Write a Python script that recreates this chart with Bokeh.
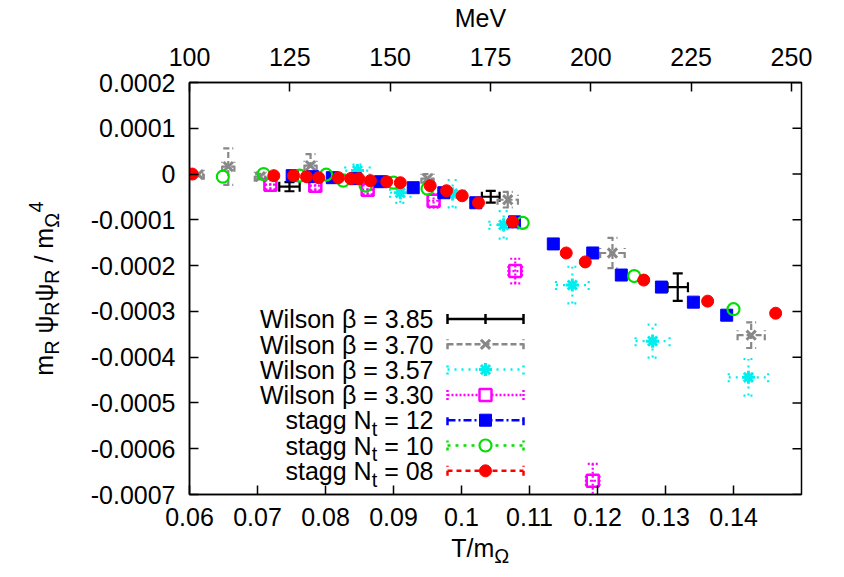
import numpy as np
from bokeh.plotting import figure
from bokeh.models import Range1d, LinearAxis, FixedTicker
from bokeh.core.properties import value
from bokeh.embed import file_html
from bokeh.resources import INLINE

# ---------------- data ----------------
# Wilson beta = 3.85 (black)
w385_x = [0.0747, 0.1043, 0.1318]
w385_y = [-0.0000276, -0.0000496, -0.000247]
w385_dx = [0.0015, 0.0013, 0.0015]
w385_dy = [0.00001, 0.000013, 0.00003]
# Wilson beta = 3.70 (gray)
w370_x = [0.0613, 0.0657, 0.0704, 0.0778, 0.0950, 0.1068, 0.1222, 0.1426]
w370_y = [-0.0000013, 0.0000162, -0.0000057, 0.0000184, -0.00001, -0.0000561, -0.0001724, -0.000352]
w370_dx = [0.0008, 0.0009, 0.0008, 0.0009, 0.0009, 0.0015, 0.0018, 0.002]
w370_dy = [0.000004, 0.00004, 0.000006, 0.000025, 0.00001, 0.000017, 0.000033, 0.000028]
# Wilson beta = 3.57 (cyan)
w357_x = [0.0847, 0.0910, 0.0987, 0.1062, 0.1163, 0.1281, 0.1422]
w357_y = [0.0000075, -0.0000408, -0.000043, -0.000111, -0.0002425, -0.000365, -0.000444]
w357_dx = [0.0018, 0.0015, 0.0018, 0.0021, 0.0024, 0.0025, 0.0029]
w357_dy = [0.000013, 0.000022, 0.00003, 0.00003, 0.00004, 0.000036, 0.00004]
# Wilson beta = 3.30 (magenta)
w330_x = [0.0719, 0.0785, 0.0862, 0.0959, 0.1079, 0.1193]
w330_y = [-0.0000232, -0.0000254, -0.0000342, -0.0000583, -0.000212, -0.00067]
w330_dx = [0.0008, 0.0008, 0.0008, 0.0008, 0.001, 0.001]
w330_dy = [0.00001, 0.00001, 0.00001, 0.000015, 0.000027, 0.000037]
# stagg Nt = 12 (blue)
s12_x = [0.0751, 0.0781, 0.0810, 0.0844, 0.0881, 0.0929, 0.0974, 0.1021, 0.1078,
         0.1135, 0.1193, 0.1235, 0.1294, 0.1341, 0.1390]
s12_y = [-0.0000035, -0.0000057, -0.0000079, -0.00001, -0.0000167, -0.0000298, -0.0000408,
         -0.0000627, -0.0001044, -0.0001526, -0.0001724, -0.0002206, -0.0002469, -0.0002798, -0.0003083]
# stagg Nt = 10 (green)
s10_x = [0.0649, 0.0709, 0.0762, 0.0801, 0.0826, 0.0859, 0.0900, 0.0950, 0.1090, 0.1254, 0.1400]
s10_y = [-0.0000057, 0.0, -0.0000035, -0.0000013, -0.0000145, -0.0000254, -0.0000189, -0.000032,
         -0.0001066, -0.0002228, -0.0002952]
# stagg Nt = 08 (red)
s08_x = [0.0604, 0.0724, 0.0753, 0.0772, 0.0790, 0.0819, 0.0837, 0.0849, 0.0866, 0.0890, 0.0910,
         0.0954, 0.0978, 0.1001, 0.1025, 0.1075, 0.1154, 0.1182, 0.1268, 0.1362, 0.1462]
s08_y = [0.0, -0.0000035, -0.0000035, -0.0000057, -0.0000079, -0.0000079, -0.00001, -0.00001,
         -0.0000145, -0.0000167, -0.0000189, -0.0000254, -0.0000364, -0.0000474, -0.0000627,
         -0.0001044, -0.0001724, -0.000192, -0.0002316, -0.0002776, -0.000304]

x_ticks = [0.06, 0.07, 0.08, 0.09, 0.10, 0.11, 0.12, 0.13, 0.14]
x_tick_labels = ["0.06", "0.07", "0.08", "0.09", "0.1", "0.11", "0.12", "0.13", "0.14"]
y_ticks = [0.0002, 0.0001, 0.0, -0.0001, -0.0002, -0.0003, -0.0004, -0.0005, -0.0006, -0.0007]
y_tick_labels = ["0.0002", "0.0001", "0", "-0.0001", "-0.0002", "-0.0003", "-0.0004",
                 "-0.0005", "-0.0006", "-0.0007"]
mev_ticks = [100, 125, 150, 175, 200, 225, 250]
mev_range = (100, 252.5)

# ---------------- layout ----------------
XR = (0.06, 0.15)
YR = (-0.0007, 0.0002)
W, H = 836, 569
FL, FR, FT, FB = 189, 801, 82, 494
FONT = "Liberation Sans"
FS = 25
SUBFS = 20
BASEFIX = 0.33   # em correction of the rendered baseline of text glyphs


def dxp(px):
    return px * (XR[1] - XR[0]) / (FR - FL)


def dyp(px):
    return px * (YR[1] - YR[0]) / (FB - FT)


def cx(px):
    return XR[0] + (px - FL) * (XR[1] - XR[0]) / (FR - FL)


def cy(py):
    return YR[1] - (py - FT) * (YR[1] - YR[0]) / (FB - FT)


# approximate Arial / Liberation Sans advance widths (per em)
WID = {' ': .278, '=': .584, '.': .278, 'N': .722, 't': .278, 's': .5, 'a': .556, 'g': .556,
       'W': .944, 'i': .222, 'l': .222, 'o': .556, 'n': .556, 'm': .833, 'R': .722,
       'ψ': .70, '/': .278, 'Ω': .768, 'T': .611, 'M': .833, 'e': .556, 'V': .667}


def tw(s, fs):
    return sum(WID.get(ch, .556) for ch in s) * fs


p = figure(width=W, height=H, x_range=Range1d(*XR), y_range=Range1d(*YR),
           output_backend="svg", toolbar_location=None,
           min_border_left=FL, min_border_right=W - FR, min_border_top=FT, min_border_bottom=H - FB,
           background_fill_color="white", border_fill_color="white")
p.grid.visible = False
p.outline_line_color = "black"
p.outline_line_width = 1.5

bottom = p.below[0]
left = p.left[0]
bottom.ticker = FixedTicker(ticks=x_ticks)
bottom.major_label_overrides = {t: s for t, s in zip(x_ticks, x_tick_labels)}
left.ticker = FixedTicker(ticks=y_ticks)
left.major_label_overrides = {t: s for t, s in zip(y_ticks, y_tick_labels)}

p.extra_x_ranges = {"mev": Range1d(*mev_range)}
top = LinearAxis(x_range_name="mev", ticker=FixedTicker(ticks=mev_ticks))
p.add_layout(top, "above")

for ax in [bottom, left, top]:
    ax.major_tick_in = 9
    ax.major_tick_out = 0
    ax.minor_tick_line_color = None
    ax.axis_line_width = 1.5
    ax.major_tick_line_width = 1.5
    ax.axis_line_color = "black"
    ax.major_tick_line_color = "black"
    ax.major_label_text_font = FONT
    ax.major_label_text_font_size = f"{FS}px"
    ax.major_label_text_color = "black"
bottom.major_label_standoff = 13
left.major_label_standoff = 14
top.major_label_standoff = 17

# mirrored ticks on the right-hand frame edge (same positions as the left axis)
yt = np.array(y_ticks)
p.segment(x0=np.full(len(yt), XR[1] - dxp(9)), y0=yt, x1=np.full(len(yt), XR[1]), y1=yt,
          line_color="black", line_width=1.5)

CAPPX = 5


def errorbars(x, y, ex, ey, color, dash, lw):
    x = np.asarray(x, float)
    y = np.asarray(y, float)
    ex = np.asarray(ex, float)
    ey = np.asarray(ey, float)
    cxw = dxp(CAPPX)
    cyw = dyp(CAPPX)
    x0 = np.concatenate([x - ex, x, x - ex, x + ex, x - cxw, x - cxw])
    x1 = np.concatenate([x + ex, x, x - ex, x + ex, x + cxw, x + cxw])
    y0 = np.concatenate([y, y - ey, y - cyw, y - cyw, y - ey, y + ey])
    y1 = np.concatenate([y, y + ey, y + cyw, y + cyw, y - ey, y + ey])
    p.segment(x0=x0, y0=y0, x1=x1, y1=y1, line_color=color, line_width=lw, line_dash=dash)


series = [
    # x, y, dx, dy, color, dash, marker, size, filled, marker lw
    (w385_x, w385_y, w385_dx, w385_dy, "black", "solid", None, 0, False, 0),
    (w370_x, w370_y, w370_dx, w370_dy, "#888888", "6 3", "x", 13, False, 3),
    (w357_x, w357_y, w357_dx, w357_dy, "#00eeee", "2 5", "asterisk", 13, False, 3),
    (w330_x, w330_y, w330_dx, w330_dy, "#ff00ff", "2 2", "square", 12, False, 2.5),
    (s12_x, s12_y, None, None, "#0000ff", "8 3 2 3", "square", 12, True, 1),
    (s10_x, s10_y, None, None, "#00e000", "3 5", "circle", 12, False, 2.2),
    (s08_x, s08_y, None, None, "#ff0000", "5 4", "circle", 12, True, 1),
]

for (x, y, ex, ey, col, dash, mk, sz, filled, mlw) in series:
    if ex is not None:
        errorbars(x, y, ex, ey, col, dash, 2.2)
    if mk is not None:
        p.scatter(x, y, marker=mk, size=sz, line_color=col, line_width=mlw,
                  fill_color=col if filled else None)


def put_text(px, py, txt, fs, align="left", angle=0.0):
    # text drawn in data space at overlay level, so that it may sit outside the frame;
    # px, py is the wanted baseline start on the page
    fix = BASEFIX * fs
    if angle:
        px -= fix
    else:
        py -= fix
    p.text(x=[cx(px)], y=[cy(py)], text=[txt], text_font=value(FONT),
           text_font_size=value(f"{fs}px"), text_align=align, text_baseline="alphabetic",
           text_color="black", angle=angle, level="overlay")


# ---------------- legend ----------------
legend_main = ["Wilson β = 3.85", "Wilson β = 3.70", "Wilson β = 3.57", "Wilson β = 3.30",
               "stagg N", "stagg N", "stagg N"]
legend_sub = ["", "", "", "", "t", "t", "t"]
legend_tail = ["", "", "", "", " = 12", " = 10", " = 08"]

ROW0, ROWSTEP = 318.5, 25.3
TXT_R = 433
S0, S1 = 447, 523
for i, (mainS, subS, tailS) in enumerate(zip(legend_main, legend_sub, legend_tail)):
    rc = ROW0 + i * ROWSTEP
    base = rc + 8.5
    xr = TXT_R
    if tailS:
        put_text(xr, base, tailS.strip(), FS, "right")
        xr -= tw(tailS, FS)
    if subS:
        put_text(xr, base + 7, subS, SUBFS, "right")
        xr -= tw(subS, SUBFS)
    put_text(xr, base, mainS, FS, "right")
    (_, _, _, _, col, dash, mk, sz, filled, mlw) = series[i]
    yy = cy(rc)
    p.segment(x0=[cx(S0)], y0=[yy], x1=[cx(S1)], y1=[yy], line_color=col, line_width=2.5,
              line_dash=dash)
    p.segment(x0=[cx(S0), cx(S1)], y0=[yy - dyp(CAPPX)] * 2, x1=[cx(S0), cx(S1)],
              y1=[yy + dyp(CAPPX)] * 2, line_color=col, line_width=2.5, line_dash=dash)
    xm = cx((S0 + S1) / 2)
    if mk is None:
        p.segment(x0=[xm], y0=[yy - dyp(CAPPX)], x1=[xm], y1=[yy + dyp(CAPPX)],
                  line_color=col, line_width=2.5)
    else:
        p.scatter([xm], [yy], marker=mk, size=sz, line_color=col, line_width=mlw,
                  fill_color=col if filled else "white")

# ---------------- axis titles (rich text) ----------------
# x axis: T/m_Omega
total = tw("T/m", FS) + tw("Ω", SUBFS)
xpos = 480 - total / 2
put_text(xpos, 556, "T/m", FS)
put_text(xpos + tw("T/m", FS), 562, "Ω", SUBFS)

# top axis: MeV
put_text(480, 26, "MeV", FS, "center")

# y axis: m_R psi_R psi_R / m_Omega^4  (rotated, reads upwards)
yl_pieces = [("m", "n"), ("R", "sub"), (" ψ", "n"), ("R", "sub"), ("ψ", "n"), ("R", "sub"),
             (" / m", "n"), ("Ω", "sub"), ("4", "sup")]
tot = sum(tw(t, FS if k == "n" else SUBFS) for t, k in yl_pieces)
along = 288 + tot / 2   # page y of the start (bottom) of the text
BASEX = 52
for txt, kind in yl_pieces:
    fs = FS if kind == "n" else SUBFS
    shift = {"n": 0, "sub": 6, "sup": -10}[kind]
    lead = len(txt) - len(txt.lstrip())
    start = along - tw(txt[:lead], fs)
    put_text(BASEX + shift, start, txt.lstrip(), fs, "left", np.pi / 2)
    along -= tw(txt, fs)

open("out.html", "w").write(file_html(p, INLINE))
